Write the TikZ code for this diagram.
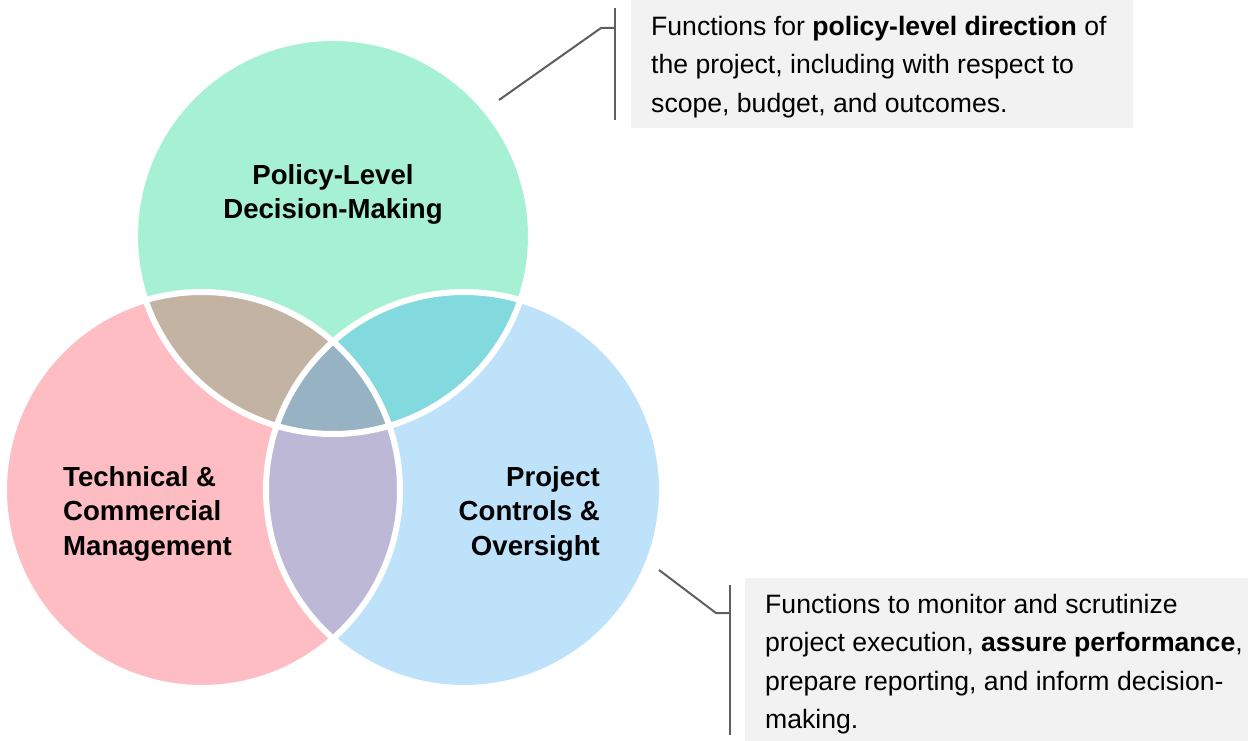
\documentclass[tikz,border=0pt]{standalone}
\usepackage{fontspec}
\setmainfont{Liberation Sans}
\definecolor{cgreen}{HTML}{A6F0D4}
\definecolor{cpink}{HTML}{FDBDC2}
\definecolor{cblue}{HTML}{BDE2FA}
\definecolor{cbrown}{HTML}{C3B3A3}
\definecolor{cteal}{HTML}{82D9DE}
\definecolor{cpurple}{HTML}{BCB8D6}
\definecolor{ccenter}{HTML}{97B2C2}
\definecolor{boxgray}{HTML}{F2F2F2}
\definecolor{leadgray}{HTML}{5F5F5F}
\begin{document}
\begin{tikzpicture}[x=1pt,y=-1pt,
  lbl/.style={font=\fontsize{27.6}{34.5}\selectfont\bfseries, inner sep=0pt},
  note/.style={font=\fontsize{26.6}{38.5}\selectfont, inner sep=0pt, align=left},
  lead/.style={draw=leadgray, line width=2pt},
  sepline/.style={draw=white, line width=6pt}]
\useasboundingbox (0,0) rectangle (1248,741);
\coordinate (ctop) at (333,236);
\coordinate (cleft) at (202,490);
\coordinate (cright) at (464,490);
\def\R{198}
% base circles
\fill[cgreen] (ctop) circle (\R);
\fill[cpink] (cleft) circle (\R);
\fill[cblue] (cright) circle (\R);
% lenses
\begin{scope}
  \clip (ctop) circle (\R);
  \fill[cbrown] (cleft) circle (\R);
  \fill[cteal] (cright) circle (\R);
\end{scope}
\begin{scope}
  \clip (cleft) circle (\R);
  \fill[cpurple] (cright) circle (\R);
\end{scope}
\begin{scope}
  \clip (ctop) circle (\R);
  \clip (cleft) circle (\R);
  \fill[ccenter] (cright) circle (\R);
\end{scope}
% separating white outlines
\draw[sepline] (ctop) circle (\R);
\draw[sepline] (cleft) circle (\R);
\draw[sepline] (cright) circle (\R);
% labels
\node[lbl, anchor=north, align=center] (ltop) at (333,164) {Policy-Level\\Decision-Making};
\node[lbl, anchor=north west, align=left] (lleft) at (63,466) {Technical \&\\Commercial\\Management};
\node[lbl, anchor=north east, align=right] (lright) at (600,466) {Project\\Controls \&\\Oversight};
% callout 1
\fill[boxgray] (631,0) rectangle (1133,128);
\node[note, anchor=north west] (n1) at (651,16) {Functions for \textbf{policy-level direction} of\\the project, including with respect to\\scope, budget, and outcomes.};
\coordinate (b1top) at (615,8);
\coordinate (b1bot) at (615,120);
\coordinate (b1tick) at (615,28);
\coordinate (b1elbow) at (601,28);
\coordinate (c1) at (499,100);
\draw[lead] (b1top) -- (b1bot);
\draw[lead] (c1) -- (b1elbow) -- (b1tick);
% callout 2
\fill[boxgray] (745,578) rectangle (1248,741);
\node[note, anchor=north west] (n2) at (765,594) {Functions to monitor and scrutinize\\project execution, \textbf{assure performance},\\prepare reporting, and inform decision-\\making.};
\coordinate (b2top) at (730,585);
\coordinate (b2bot) at (730,735);
\coordinate (b2tick) at (730,613);
\coordinate (b2elbow) at (716,613);
\coordinate (c2) at (659,570);
\draw[lead] (b2top) -- (b2bot);
\draw[lead] (c2) -- (b2elbow) -- (b2tick);
\end{tikzpicture}
\end{document}
